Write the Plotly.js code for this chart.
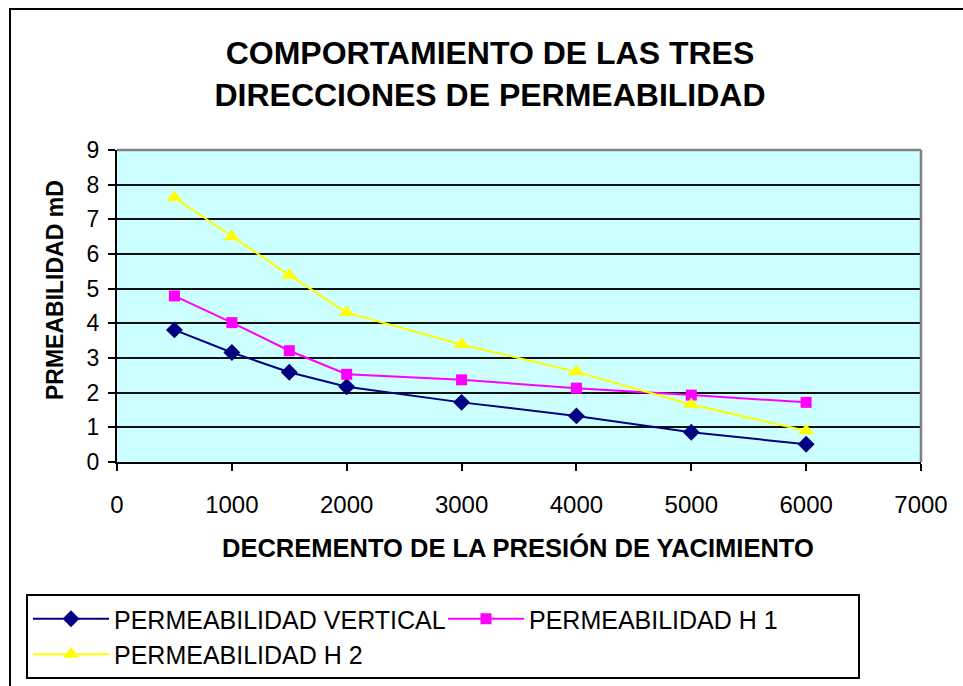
<!DOCTYPE html>
<html>
<head>
<meta charset="utf-8">
<script src="https://cdn.plot.ly/plotly-3.0.1.min.js"></script>
<style>
  html, body { margin: 0; padding: 0; background: #ffffff; }
  #chart { width: 963px; height: 686px; }
</style>
</head>
<body>
<div id="chart"></div>
<script>
// ---- data ----
const presion = [500, 1000, 1500, 2000, 3000, 4000, 5000, 6000];
const permVertical = [3.81, 3.16, 2.59, 2.17, 1.72, 1.33, 0.86, 0.51];
const permH1 = [4.79, 4.02, 3.21, 2.53, 2.37, 2.13, 1.93, 1.72];
const permH2 = [7.63, 6.50, 5.39, 4.31, 3.39, 2.60, 1.66, 0.90];
const seriesNames = ['PERMEABILIDAD VERTICAL', 'PERMEABILIDAD H 1', 'PERMEABILIDAD H 2'];
const titleText = 'COMPORTAMIENTO DE LAS TRES<br>DIRECCIONES DE PERMEABILIDAD';
const xTitle = 'DECREMENTO DE LA PRESIÓN DE YACIMIENTO';
const yTitle = 'PRMEABILIDAD mD';

const FONT = 'Arial, "Liberation Sans", sans-serif';

// plot area in px
const L = 117, R = 42, T = 150, B = 224;
const W = 963, H = 686;
const pw = W - L - R, ph = H - T - B;
const px2x = p => (p - L) / pw;
const py2y = p => (H - B - p) / ph;

const traces = [
  {
    x: presion, y: permVertical, name: seriesNames[0], type: 'scatter', mode: 'lines+markers',
    line: {color: '#000080', width: 2},
    marker: {symbol: 'diamond', size: 13, color: '#000080'}
  },
  {
    x: presion, y: permH1, name: seriesNames[1], type: 'scatter', mode: 'lines+markers',
    line: {color: '#FF00FF', width: 2},
    marker: {symbol: 'square', size: 11, color: '#FF00FF'}
  },
  {
    x: presion, y: permH2, name: seriesNames[2], type: 'scatter', mode: 'lines+markers',
    line: {color: '#FFFF00', width: 2},
    marker: {symbol: 'triangle-up', size: 14, color: '#FFFF00'}
  }
];

const layout = {
  width: W, height: H,
  margin: {l: L, r: R, t: T, b: B, autoexpand: false},
  paper_bgcolor: '#ffffff',
  plot_bgcolor: '#CCFFFF',
  font: {family: FONT, color: '#000000'},
  showlegend: true,
  title: {
    text: titleText,
    font: {family: FONT, size: 32, color: '#000000', weight: 'bold'},
    x: 490 / W, xanchor: 'center', xref: 'container',
    y: 1 - 64 / H, yanchor: 'top', yref: 'container'
  },
  xaxis: {
    range: [0, 7000], dtick: 1000, tick0: 0,
    showgrid: false, zeroline: false,
    showline: true, linecolor: '#000000', linewidth: 2,
    ticks: 'outside', ticklen: 7, tickwidth: 2, tickcolor: '#000000',
    ticklabelstandoff: 13,
    tickfont: {family: FONT, size: 24, color: '#000000'},
    fixedrange: true
  },
  yaxis: {
    range: [0, 9], dtick: 1, tick0: 0,
    showgrid: true, gridcolor: '#111111', gridwidth: 2,
    zeroline: false,
    showline: true, linecolor: '#000000', linewidth: 2,
    ticks: 'outside', ticklen: 7, tickwidth: 2, tickcolor: '#000000',
    ticklabelstandoff: 4,
    tickfont: {family: FONT, size: 23, color: '#000000'},
    fixedrange: true
  },
  annotations: [
    {
      text: xTitle, showarrow: false,
      xref: 'paper', yref: 'paper',
      x: px2x(518), y: py2y(547), xanchor: 'center', yanchor: 'middle',
      font: {family: FONT, size: 25.5, color: '#000000', weight: 'bold'}
    },
    {
      text: yTitle, showarrow: false, textangle: -90,
      xref: 'paper', yref: 'paper',
      x: px2x(55), y: py2y(290), xanchor: 'center', yanchor: 'middle',
      font: {family: FONT, size: 23, color: '#000000', weight: 'bold'}
    }
  ],
  shapes: [
    // outer chart frame (extends past the window on the right and bottom)
    {type: 'rect', xref: 'paper', yref: 'paper', layer: 'below',
     x0: px2x(10), x1: px2x(1000), y0: py2y(760), y1: py2y(9),
     line: {color: '#000000', width: 2}, fillcolor: 'rgba(0,0,0,0)'},
    // grey plot-area border on top and right
    {type: 'line', xref: 'paper', yref: 'paper', layer: 'above',
     x0: 0, x1: 1, y0: 1, y1: 1, line: {color: '#808080', width: 2.5}},
    {type: 'line', xref: 'paper', yref: 'paper', layer: 'above',
     x0: 1, x1: 1, y0: 0, y1: 1, line: {color: '#808080', width: 2.5}}
  ],
  legend: {
    orientation: 'h',
    x: px2x(26), xanchor: 'left',
    y: py2y(594), yanchor: 'top',
    xref: 'paper', yref: 'paper',
    bgcolor: '#ffffff', bordercolor: '#000000', borderwidth: 2,
    font: {family: FONT, size: 25, color: '#000000'},
    itemwidth: 76,
    entrywidth: 324,
    traceorder: 'normal'
  }
};

Plotly.newPlot('chart', traces, layout, {displayModeBar: false, staticPlot: true});
</script>
</body>
</html>
